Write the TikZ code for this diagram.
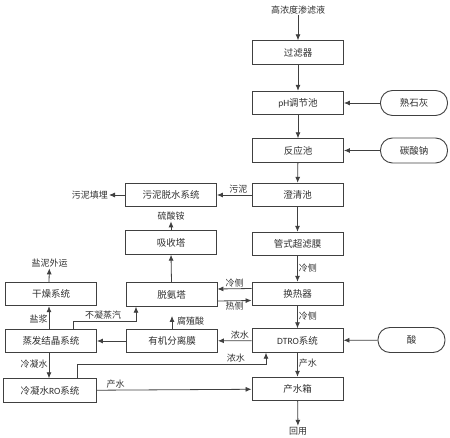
\documentclass[tikz,border=0pt]{standalone}
\usepackage{fontspec}
\setmainfont{Noto Sans CJK SC}
\newfontfamily\lat{Carlito}
\usetikzlibrary{arrows.meta}
\definecolor{ln}{HTML}{404040}
\definecolor{tx}{HTML}{303030}
\tikzset{
  box/.style={draw=ln,line width=0.9pt,minimum width=91pt,minimum height=23.5pt,inner sep=0pt,font=\fontsize{9.5}{10}\selectfont,text=tx},
  pill/.style={draw=ln,line width=0.9pt,rounded corners=12pt,minimum width=67pt,minimum height=25pt,inner sep=0pt,font=\fontsize{9.5}{10}\selectfont,text=tx},
  lbl/.style={font=\fontsize{9}{10}\selectfont,text=tx,inner sep=1pt},
  arr/.style={draw=ln,line width=0.8pt,-{Latex[length=6pt,width=5pt]}},
  ln/.style={draw=ln,line width=0.8pt}
}
\begin{document}
\begin{tikzpicture}[x=1pt,y=-1pt]
\useasboundingbox (0,0) rectangle (450,438);
% nodes
\node[lbl] (src) at (298,10) {高浓度渗滤液};
\node[box] (gl) at (298,52.5) {过滤器};
\node[box] (ph) at (298,103) {{\lat pH}调节池};
\node[box] (fy) at (298,150.5) {反应池};
\node[pill] (shh) at (414,103) {熟石灰};
\node[pill] (tsn) at (414,150.5) {碳酸钠};
\node[box] (cq) at (297.5,195) {澄清池};
\node[box] (wn) at (171,195) {污泥脱水系统};
\node[lbl,anchor=east] (wntm) at (109,195) {污泥填埋};
\node[box] (xs) at (171,242.5) {吸收塔};
\node[lbl] (lsa) at (171,216) {硫酸铵};
\node[box] (gs) at (297.5,244) {管式超滤膜};
\node[box] (gz) at (51,294) {干燥系统};
\node[box] (ta) at (171.5,294.5) {脱氨塔};
\node[box] (hr) at (297.5,294) {换热器};
\node[lbl] (ynwy) at (49.5,263) {盐泥外运};
\node[box] (zf) at (51,341) {蒸发结晶系统};
\node[box] (yj) at (172,341) {有机分离膜};
\node[box] (dt) at (297.5,340.5) {{\lat DTRO}系统};
\node[pill] (acid) at (411.5,340) {酸};
\node[lbl,anchor=west] (fzs) at (176,321) {腐殖酸};
\node[box,minimum width=93pt] (lro) at (50,390.5) {冷凝水{\lat RO}系统};
\node[box] (cs) at (297.5,389) {产水箱};
\node[lbl] (hy) at (298,431) {回用};
\coordinate (fzsb) at (172,316);
% connectors
\draw[arr] (src) -- (gl);
\draw[arr] (gl) -- (ph);
\draw[arr] (ph) -- (fy);
\draw[arr] (fy) -- (cq);
\draw[arr] (shh) -- (ph);
\draw[arr] (tsn) -- (fy);
\draw[arr] (cq) -- node[lbl,above,pos=0.38] {污泥} (wn);
\draw[arr] (wn) -- (wntm);
\draw[arr] (cq) -- (gs);
\draw[arr] (gs.south) -- node[lbl,right,pos=0.45] {冷侧} (hr.north);
\draw[arr] (xs) -- (lsa);
\draw[arr] (ta.north) -- (xs.south);
\draw[arr] ([yshift=5.5pt]hr.west) -- node[lbl,above] {冷侧} ([yshift=5.5pt]ta.east);
\draw[arr] ([yshift=-6.5pt]ta.east) -- node[lbl,below] {热侧} ([yshift=-6.5pt]hr.west);
\draw[arr] (hr) -- node[lbl,right,pos=0.45] {冷侧} (dt);
\draw[arr] (acid) -- (dt);
\draw[arr] (dt) -- node[lbl,above,pos=0.35] {浓水} (yj);
\draw[arr] (yj) -- (zf);
\draw[arr] (yj.north) -- (fzsb);
\draw[arr] ([xshift=22pt]zf.north) |- (136,321) node[lbl,above,pos=0.74] {不凝蒸汽} -- ([xshift=-35.5pt]ta.south);
\draw[arr] ([xshift=-2pt]zf.north) -- node[lbl,left,pos=0.45] {盐浆} ([xshift=-2pt]gz.south);
\draw[arr] ([xshift=-2pt]gz.north) -- (ynwy);
\draw[arr] ([xshift=-2pt]zf.south) -- node[lbl,left,pos=0.45] {冷凝水} ([xshift=-1pt]lro.north);
\draw[arr] ([xshift=27pt]lro.north) |- (266,364) node[lbl,above,pos=0.92] {浓水} -- ([xshift=-31.5pt]dt.south);
\draw[arr] (dt) -- node[lbl,right,pos=0.45] {产水} (cs);
\draw[arr] (lro) -- node[lbl,above,pos=0.12] {产水} (cs);
\draw[arr] (cs) -- (hy);
\end{tikzpicture}
\end{document}
